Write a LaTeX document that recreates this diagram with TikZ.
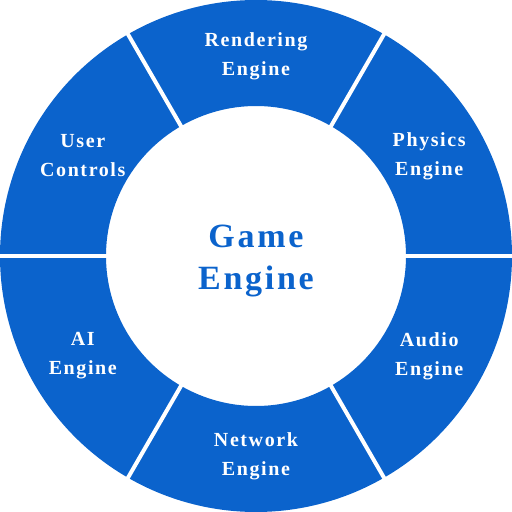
\documentclass[tikz,border=0pt]{standalone}
\usepackage{fontspec}
\usepackage{xcolor}
\setmainfont{Liberation Serif}
\newfontfamily\ringfont[LetterSpace=8]{Liberation Serif}
\definecolor{engineblue}{RGB}{11,99,204}
\usetikzlibrary{positioning}

\begin{document}
\begin{tikzpicture}[x=1pt, y=1pt,
    segment/.style={fill=engineblue},
    gap/.style={draw=white, line width=4pt},
    part_label/.style={text=white, font=\ringfont\bfseries\fontsize{20}{29}\selectfont, align=center},
    core_label/.style={text=engineblue, font=\ringfont\bfseries\fontsize{34}{42}\selectfont, align=center}
]

\useasboundingbox (-256,-256) rectangle (256,256);

% ring segments
\foreach \a in {0,60,...,300}{
  \fill[segment] (\a:256) arc[start angle=\a, end angle=\a+60, radius=256]
    -- (\a+60:150) arc[start angle=\a+60, end angle=\a, radius=150] -- cycle;
}
\foreach \a in {0,60,...,300}{
  \draw[gap] (\a:148) -- (\a:258);
}

\node[core_label] (core) at (0,-5) {Game\\Engine};

\node[part_label] (render) at (90:200) {Rendering\\Engine};
\node[part_label] (physics) at (30:200) {Physics\\Engine};
\node[part_label] (audio) at (-30:200) {Audio\\Engine};
\node[part_label] (network) at (-90:200) {Network\\Engine};
\node[part_label] (ai) at (-150:200) {AI\\Engine};
\node[part_label] (controls) at (150:200) {User\\Controls};

\end{tikzpicture}
\end{document}
